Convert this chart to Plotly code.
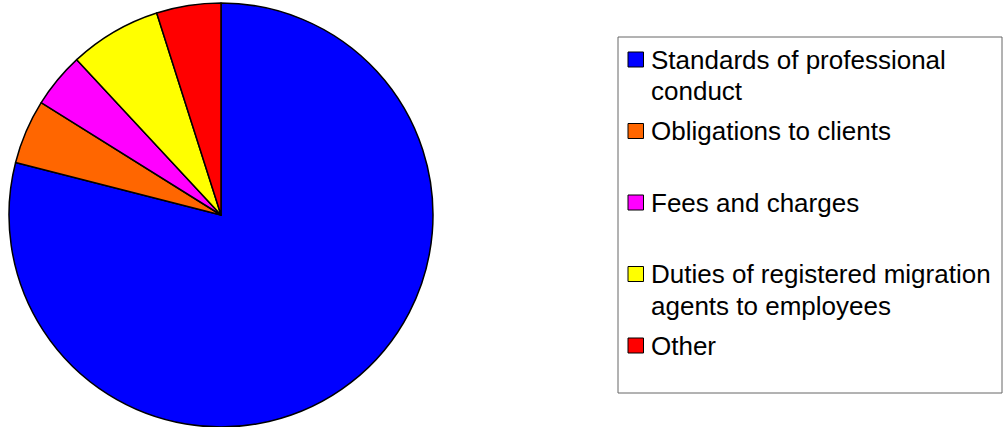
import plotly.graph_objects as go

W, H = 1003, 427

categories = [
    "Standards of professional conduct",
    "Obligations to clients",
    "Fees and charges",
    "Duties of registered migration agents to employees",
    "Other",
]
legend_lines = [
    ["Standards of professional", "conduct"],
    ["Obligations to clients"],
    ["Fees and charges"],
    ["Duties of registered migration", "agents to employees"],
    ["Other"],
]
values = [78.9, 4.9, 4.2, 7.0, 4.9]
colors = ["#0000FF", "#FF6600", "#FF00FF", "#FFFF00", "#FF0000"]

def px(x):
    return x / W

def py(y):
    return 1 - y / H

fig = go.Figure()
fig.add_trace(go.Pie(
    labels=categories,
    values=values,
    sort=False,
    direction="clockwise",
    rotation=0,
    textinfo="none",
    hoverinfo="label+percent",
    marker=dict(colors=colors, line=dict(color="black", width=1.5)),
    domain=dict(x=[px(9), px(433)], y=[py(427), py(3)]),
    showlegend=False,
))

shapes = [dict(type="rect", xref="paper", yref="paper",
               x0=px(618), x1=px(1002), y0=py(393), y1=py(37),
               line=dict(color="#666666", width=1), fillcolor="white", layer="below")]
annotations = []
font = dict(family="Liberation Sans, Arial, sans-serif", size=26, color="black")
for i, (lines, col) in enumerate(zip(legend_lines, colors)):
    cy = 59.5 + 71.5 * i
    shapes.append(dict(type="rect", xref="paper", yref="paper",
                       x0=px(628), x1=px(643.5), y0=py(cy + 7.5), y1=py(cy - 7.5),
                       line=dict(color="black", width=1), fillcolor=col))
    for k, line in enumerate(lines):
        annotations.append(dict(xref="paper", yref="paper", x=px(649), y=py(cy + k * 31.5),
                                xanchor="left", yanchor="middle", align="left",
                                showarrow=False, text=line, font=font))

fig.update_layout(
    width=W, height=H,
    margin=dict(l=0, r=0, t=0, b=0),
    paper_bgcolor="white",
    plot_bgcolor="white",
    shapes=shapes,
    annotations=annotations,
)

fig.write_html("out.html")
